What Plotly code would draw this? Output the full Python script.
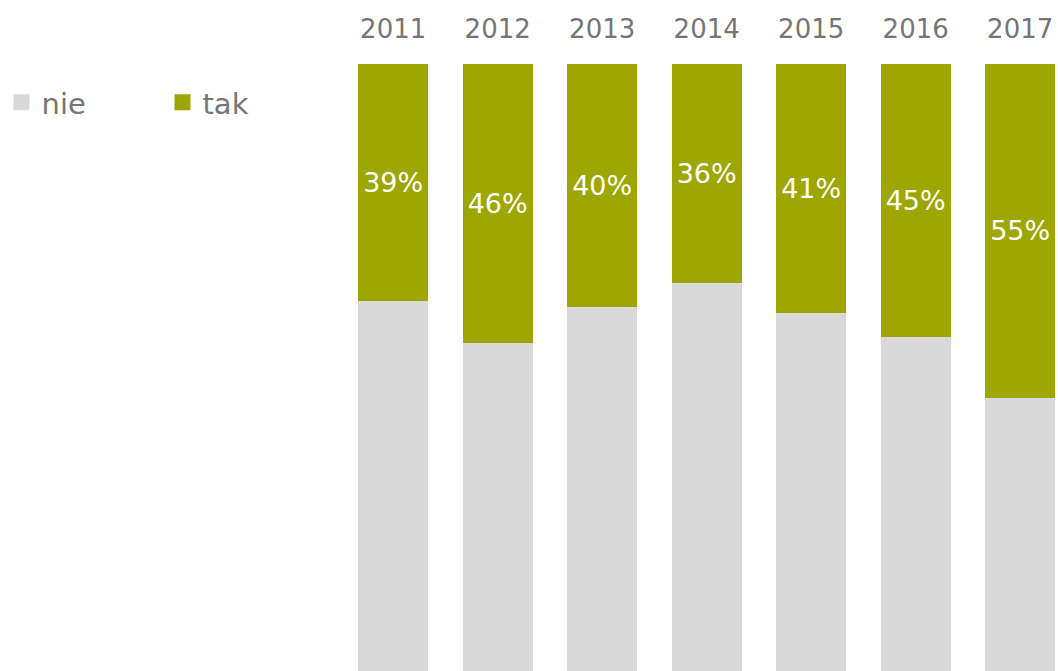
import plotly.graph_objects as go

years = ["2011", "2012", "2013", "2014", "2015", "2016", "2017"]
tak = [39, 46, 40, 36, 41, 45, 55]
nie = [61, 54, 60, 64, 59, 55, 45]
series_names = ["nie", "tak"]
colors = {"nie": "#d9d9d9", "tak": "#9ea600"}

FONT = "DejaVu Sans"
GRAY = "#767676"

fig = go.Figure()
fig.add_trace(go.Bar(
    x=years, y=nie, name="nie", showlegend=False,
    marker=dict(color=colors["nie"], line=dict(width=0)),
    hoverinfo="skip",
))
fig.add_trace(go.Bar(
    x=years, y=tak, name="tak", showlegend=False,
    marker=dict(color=colors["tak"], line=dict(width=0)),
    text=[f"{v}%" for v in tak],
    textposition="inside", insidetextanchor="middle",
    textfont=dict(color="white", size=27, family=FONT),
    hoverinfo="skip",
))
# legend entries with larger square swatches
for nm in series_names:
    fig.add_trace(go.Scatter(
        x=[None], y=[None], mode="markers", name=nm,
        marker=dict(symbol="square", size=19, color=colors[nm]),
        hoverinfo="skip",
    ))

L, T = 340, 64
PW, PH = 1058 - L, 671 - T
r0 = -0.509
r1 = r0 + PW / 104.5

fig.update_layout(
    barmode="stack",
    bargap=0.33,
    width=1058, height=671,
    margin=dict(l=L, r=0, t=T, b=0),
    paper_bgcolor="white", plot_bgcolor="white",
    font=dict(family=FONT, color=GRAY, size=27),
    showlegend=True,
    legend=dict(
        orientation="h",
        x=(1.5 - L) / PW, y=1 - (77 - T) / PH,
        xanchor="left", yanchor="top",
        entrywidth=116, entrywidthmode="pixels",
        itemsizing="trace",
        font=dict(size=29, color=GRAY, family=FONT),
        traceorder="normal",
    ),
)
fig.update_xaxes(
    side="top", type="category",
    range=[r0, r1],
    showgrid=False, showline=False, zeroline=False, ticks="",
    tickfont=dict(size=26, color=GRAY, family=FONT),
    ticklabelstandoff=20,
)
fig.update_yaxes(
    range=[0, 100], visible=False, showgrid=False, zeroline=False,
)

fig.write_html("out.html", config={"displayModeBar": False},
               post_script="document.body.style.margin='0';")
